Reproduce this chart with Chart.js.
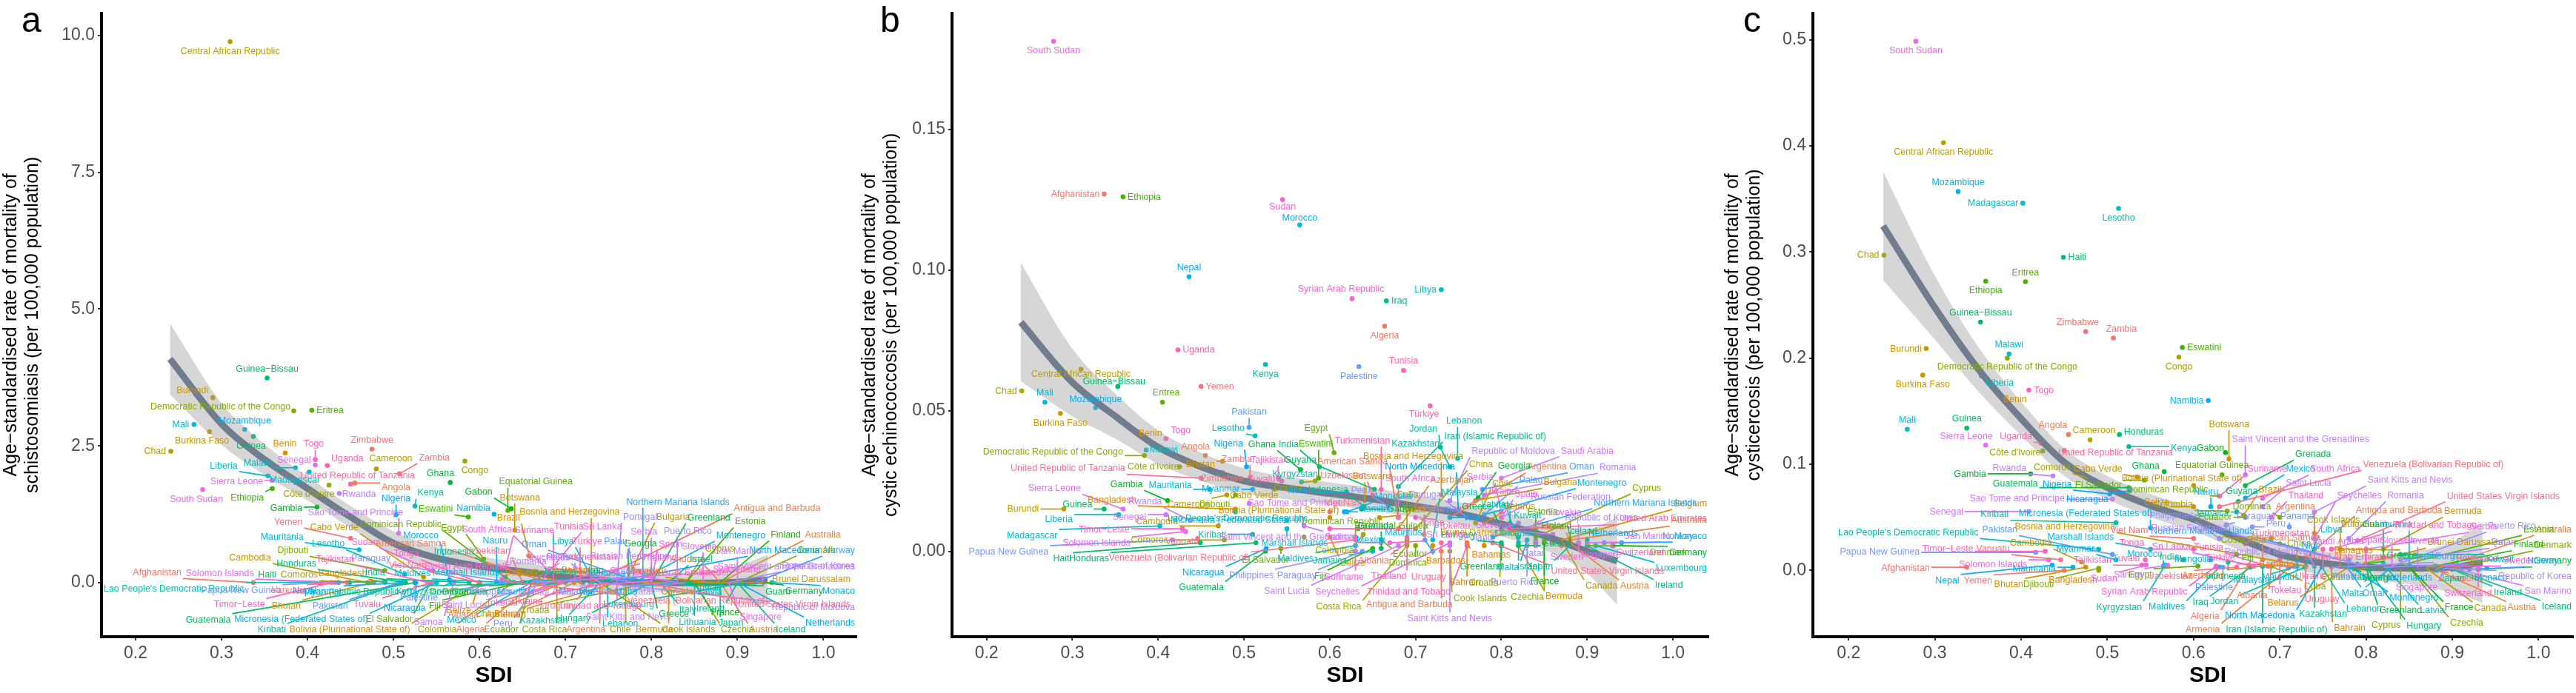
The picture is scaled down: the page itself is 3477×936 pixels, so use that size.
<!DOCTYPE html>
<html>
<head>
<meta charset="utf-8">
<script src="https://cdn.jsdelivr.net/npm/chart.js@4.4.1/dist/chart.umd.min.js"></script>
<style>
  html, body { margin: 0; padding: 0; background: #fff; width: 3477px; height: 936px; overflow: hidden; }
  canvas { position: absolute; top: 0; }
</style>
</head>
<body>
<canvas id="panelA" width="1160" height="936" style="left:0px;width:1160px;height:936px"></canvas>
<canvas id="panelB" width="1160" height="936" style="left:1150px;width:1160px;height:936px"></canvas>
<canvas id="panelC" width="1177" height="936" style="left:2300px;width:1177px;height:936px"></canvas>
<script>
// countries in factor (alphabetical) order; colour = ggplot hue palette by this order
const countries = [
  "Afghanistan","Albania","Algeria","American Samoa","Andorra","Angola","Antigua and Barbuda","Argentina","Armenia","Australia",
  "Austria","Azerbaijan","Bahamas","Bahrain","Bangladesh","Barbados","Belarus","Belgium","Belize","Benin",
  "Bermuda","Bhutan","Bolivia (Plurinational State of)","Bosnia and Herzegovina","Botswana","Brazil","Brunei Darussalam","Bulgaria","Burkina Faso","Burundi",
  "Cabo Verde","Cambodia","Cameroon","Canada","Central African Republic","Chad","Chile","China","Colombia","Comoros",
  "Congo","Cook Islands","Costa Rica","Côte d'Ivoire","Croatia","Cuba","Cyprus","Czechia","Democratic People's Republic of Korea","Democratic Republic of the Congo",
  "Denmark","Djibouti","Dominica","Dominican Republic","Ecuador","Egypt","El Salvador","Equatorial Guinea","Eritrea","Estonia",
  "Eswatini","Ethiopia","Fiji","Finland","France","Gabon","Gambia","Georgia","Germany","Ghana",
  "Greece","Greenland","Grenada","Guam","Guatemala","Guinea","Guinea−Bissau","Guyana","Haiti","Honduras",
  "Hungary","Iceland","India","Indonesia","Iran (Islamic Republic of)","Iraq","Ireland","Israel","Italy","Jamaica",
  "Japan","Jordan","Kazakhstan","Kenya","Kiribati","Kuwait","Kyrgyzstan","Lao People's Democratic Republic","Latvia","Lebanon",
  "Lesotho","Liberia","Libya","Lithuania","Luxembourg","Madagascar","Malawi","Malaysia","Maldives","Mali",
  "Malta","Marshall Islands","Mauritania","Mauritius","Mexico","Micronesia (Federated States of)","Monaco","Mongolia","Montenegro","Morocco",
  "Mozambique","Myanmar","Namibia","Nauru","Nepal","Netherlands","New Zealand","Nicaragua","Niger","Nigeria",
  "Niue","North Macedonia","Northern Mariana Islands","Norway","Oman","Pakistan","Palau","Palestine","Panama","Papua New Guinea",
  "Paraguay","Peru","Philippines","Poland","Portugal","Puerto Rico","Qatar","Republic of Korea","Republic of Moldova","Romania",
  "Russian Federation","Rwanda","Saint Kitts and Nevis","Saint Lucia","Saint Vincent and the Grenadines","Samoa","San Marino","Sao Tome and Principe","Saudi Arabia","Senegal",
  "Serbia","Seychelles","Sierra Leone","Singapore","Slovakia","Slovenia","Solomon Islands","Somalia","South Africa","South Sudan",
  "Spain","Sri Lanka","Sudan","Suriname","Sweden","Switzerland","Syrian Arab Republic","Taiwan (Province of China)","Tajikistan","Thailand",
  "Timor−Leste","Togo","Tokelau","Tonga","Trinidad and Tobago","Tunisia","Türkiye","Turkmenistan","Tuvalu","Uganda",
  "Ukraine","United Arab Emirates","United Kingdom","United Republic of Tanzania","United States of America","United States Virgin Islands","Uruguay","Uzbekistan","Vanuatu","Venezuela (Bolivarian Republic of)",
  "Viet Nam","Yemen","Zambia","Zimbabwe"
];

// labels that ggrepel dropped (too many overlaps) in the figure
const unlabelled = ["Democratic People's Republic of Korea","New Zealand","Taiwan (Province of China)",
  "United Kingdom","United States of America"];

const sdi = [
  0.337,0.69,0.664,0.68,0.88,0.455,0.73,0.74,0.71,0.88,
  0.88,0.68,0.76,0.76,0.49,0.72,0.78,0.87,0.60,0.374,
  0.82,0.475,0.60,0.73,0.641,0.658,0.78,0.77,0.286,0.29,
  0.535,0.47,0.48,0.87,0.31,0.241,0.77,0.70,0.639,0.477,
  0.583,0.74,0.69,0.425,0.80,0.69,0.84,0.85,0.57,0.384,
  0.90,0.49,0.70,0.63,0.66,0.605,0.543,0.633,0.405,0.84,
  0.587,0.359,0.65,0.88,0.85,0.637,0.411,0.773,0.93,0.566,
  0.80,0.80,0.66,0.82,0.525,0.337,0.353,0.652,0.449,0.514,
  0.80,0.90,0.588,0.64,0.68,0.666,0.90,0.82,0.81,0.65,
  0.88,0.729,0.74,0.525,0.51,0.84,0.567,0.49,0.82,0.749,
  0.513,0.354,0.73,0.85,0.91,0.402,0.386,0.72,0.63,0.268,
  0.83,0.55,0.46,0.72,0.66,0.55,0.94,0.62,0.78,0.565,
  0.327,0.51,0.617,0.62,0.436,0.90,0.86,0.526,null,0.503,
  0.74,0.75,0.79,0.92,0.778,0.506,0.78,0.634,0.711,0.417,
  0.638,0.668,0.63,0.82,0.76,0.83,0.84,0.89,0.74,0.78,
  0.80,0.437,0.74,0.68,0.66,0.57,0.90,0.506,0.80,0.409,
  0.80,0.74,0.359,0.89,0.83,0.86,0.432,null,0.68,0.278,
  0.80,0.67,0.545,0.63,0.89,0.93,0.626,0.84,0.54,0.69,
  0.428,0.409,0.70,0.60,0.76,0.686,0.717,0.66,0.544,0.423,
  0.75,0.81,0.86,0.45,0.87,0.79,0.73,0.65,0.446,0.63,
  0.60,0.45,0.507,0.475
];

// age-standardised mortality, per 100,000
const rateSchisto = [
  0,0,0,0,0,1.82,0,0,0,0,
  0,0,0,0,0,0,0,0,0,2.37,
  0,0,0,0,0.96,0.48,0,0,2.76,3.38,
  0.10,0,2.08,0,9.89,2.40,0,0.01,0,0,
  2.22,0,0,1.78,0,0,0,0,0,3.14,
  0,0.22,0,0.10,0,0.43,0,1.32,3.15,0,
  1.20,1.72,0,0,0,1.35,1.38,0,0,1.83,
  0,0,0,0,0,2.67,3.74,0,0,0,
  0,0,0,0,0,0.20,0,0,0,0,
  0,0,0,1.40,0,0,0,0.02,0,0,
  0.15,1.95,0.10,0,0,2.02,2.10,0,0,2.89,
  0,0,0.60,0.05,0,0,0,0,0,0.05,
  2.80,0,1.25,0.02,0,0,0,0,null,1.24,
  0,0,0,0,0.05,0,0.05,0,0.05,0,
  0,0,0.02,0,0,0,0,0,0,0,
  0,1.63,0,0,0,0,0,0.90,0.03,2.15,
  0,0,1.87,0,0,0,0,null,0.22,1.70,
  0,0,0.22,0.25,0,0,0.05,0,0,0,
  0,2.25,0.02,0,0,0.05,0.02,0,0,2.14,
  0,0,0,1.80,0,0,0,0,0,0.02,
  0,0.81,1.99,2.44
];

const rateEchino = [
  0.127,0.003,0.080,0.012,0.004,0.034,0.000,0.012,0.006,0.004,
  0.003,0.008,0.003,0.002,0.015,0.002,0.010,0.004,0.005,0.042,
  0.002,0.032,0.012,0.020,0.018,0.012,0.002,0.018,0.049,0.015,
  0.022,0.009,0.020,0.004,0.0647,0.057,0.010,0.008,0.006,0.004,
  0.025,0.000,0.002,0.030,0.002,0.004,0.005,0.004,0.005,0.034,
  0.002,0.020,0.002,0.005,0.004,0.035,0.001,0.008,0.053,0.003,
  0.026,0.126,0.001,0.002,0.003,0.015,0.018,0.019,0.002,0.029,
  0.008,0.002,0.001,0.002,0.000,0.015,0.0586,0.022,0.003,0.003,
  0.003,0.003,0.030,0.016,0.023,0.089,0.002,0.005,0.010,0.000,
  0.002,0.037,0.030,0.0664,0.006,0.008,0.0246,0.014,0.003,0.033,
  0.041,0.013,0.093,0.006,0.002,0.009,0.036,0.004,0.002,0.053,
  0.004,0.008,0.022,0.000,0.004,0.011,0.003,0.014,0.013,0.116,
  0.051,0.022,0.014,0.021,0.0976,0.004,0.003,0.001,null,0.030,
  0.012,0.014,0.005,0.003,0.022,0.044,0.013,0.0656,0.004,0.004,
  0.000,0.016,0.000,0.010,0.012,0.002,0.004,0.003,0.018,0.020,
  0.012,0.011,0.002,0.002,0.003,0.009,0.003,0.017,0.026,0.013,
  0.014,0.003,0.015,0.001,0.008,0.006,0.007,null,0.012,0.1813,
  0.012,0.003,0.125,0.005,0.003,0.002,0.0898,0.002,0.026,0.005,
  0.008,0.040,0.012,0.008,0.002,0.0643,0.0517,0.022,0.025,0.0716,
  0.015,0.008,0.003,0.026,0.002,0.003,0.003,0.020,0.0045,0.004,
  0.014,0.0586,0.026,0.028
];

const rateCysti = [
  0.003,0.004,0.005,0.010,0.000,0.128,0.012,0.035,0.002,0.001,
  0.001,0.004,0.020,0.004,0.000,0.020,0.003,0.003,0.060,0.166,
  0.020,0.003,0.080,0.004,0.105,0.052,0.003,0.004,0.184,0.209,
  0.088,0.008,0.123,0.002,0.403,0.297,0.020,0.025,0.056,0.087,
  0.201,0.010,0.030,0.1125,0.002,0.004,0.001,0.003,0.004,0.200,
  0.002,0.002,0.050,0.070,0.050,0.004,0.085,0.090,0.272,0.005,
  0.210,0.2725,0.015,0.004,0.003,0.111,0.091,0.004,0.001,0.093,
  0.006,0.003,0.080,0.012,0.078,0.134,0.234,0.065,0.295,0.128,
  0.003,0.002,0.010,0.008,0.004,0.003,0.001,0.002,0.003,0.055,
  0.001,0.003,0.004,0.1166,0.045,0.015,0.005,0.020,0.006,0.003,
  0.341,0.183,0.004,0.005,0.001,0.346,0.204,0.004,0.003,0.133,
  0.003,0.020,0.003,0.010,0.068,0.040,0.002,0.010,0.004,0.004,
  0.357,0.010,0.160,0.060,0.005,0.005,0.002,0.075,null,0.072,
  0.020,0.005,0.006,0.001,0.003,0.015,0.010,0.003,0.041,0.017,
  0.043,0.041,0.030,0.003,0.003,0.004,0.010,0.002,0.005,0.030,
  0.004,0.089,0.055,0.060,0.090,0.005,0.002,0.067,0.004,0.0555,
  0.020,0.030,0.118,0.001,0.003,0.002,0.010,null,0.068,0.4986,
  0.003,0.004,0.005,0.070,0.004,0.003,0.004,0.002,0.005,0.050,
  0.018,0.170,0.010,0.020,0.020,0.004,0.004,0.025,0.010,0.120,
  0.020,0.003,0.002,0.113,0.002,0.028,0.004,0.003,0.010,0.060,
  0.030,0.000,0.219,0.225
];

// loess fit
const smoothX = [0.24,0.30,0.35,0.40,0.45,0.50,0.55,0.60,0.65,0.70,0.75,0.80,0.85,0.90,0.935];
const fitA = [4.09,2.90,2.25,1.72,1.20,0.72,0.45,0.30,0.20,0.10,0.03,0.00,-0.01,0.01,0.05];
const loA  = [3.44,2.52,1.97,1.50,1.00,0.50,0.25,0.12,0.03,-0.06,-0.13,-0.17,-0.21,-0.29,-0.41];
const hiA  = [4.74,3.28,2.53,1.94,1.40,0.94,0.65,0.48,0.37,0.26,0.19,0.17,0.19,0.31,0.51];
const fitB = [0.0814,0.060,0.048,0.037,0.030,0.025,0.0225,0.0205,0.0185,0.016,0.0135,0.0097,0.0055,0.0,-0.0035];
const loB  = [0.0604,0.048,0.040,0.031,0.025,0.0205,0.0185,0.0165,0.0145,0.012,0.0095,0.0052,0.0005,-0.008,-0.019];
const hiB  = [0.1024,0.072,0.056,0.043,0.035,0.0295,0.0265,0.0245,0.0225,0.020,0.0175,0.0142,0.0105,0.008,0.012];
const fitC = [0.3246,0.2475,0.190,0.143,0.102,0.078,0.061,0.048,0.031,0.015,0.007,0.003,0.002,0.003,0.0075];
const loC  = [0.2736,0.2175,0.169,0.127,0.089,0.067,0.050,0.037,0.020,0.004,-0.004,-0.009,-0.013,-0.021,-0.0305];
const hiC  = [0.3756,0.2775,0.211,0.159,0.115,0.089,0.072,0.059,0.042,0.026,0.018,0.015,0.017,0.027,0.0455];

const xTicks = [0.2,0.3,0.4,0.5,0.6,0.7,0.8,0.9,1.0];
const yTicksA = [0,2.5,5,7.5,10];
const yTicksB = [0,0.05,0.10,0.15];
const yTicksC = [0,0.1,0.2,0.3,0.4,0.5];

const FONT = "'Liberation Sans', Arial, sans-serif";
const LABEL_FONT = "13.5px " + FONT;
const SQUEEZE = 0.92;
const LABEL_H = 14;
const BOX_PAD_X = 5;
const BOX_PAD_Y = 4;

Chart.defaults.font.family = FONT;

// ggplot2 hue_pal(): hcl(h, c = 100, l = 65)
function hcl(h, c, l) {
  const rad = h * Math.PI / 180;
  const U = c * Math.cos(rad), V = c * Math.sin(rad);
  const Xn = 95.047, Yn = 100, Zn = 108.883;
  const den = Xn + 15 * Yn + 3 * Zn;
  const un = 4 * Xn / den, vn = 9 * Yn / den;
  const Y = l > 8 ? Yn * Math.pow((l + 16) / 116, 3) : Yn * l / 903.3;
  const u = U / (13 * l) + un, v = V / (13 * l) + vn;
  const X = 9 * Y * u / (4 * v);
  const Z = -X / 3 - 5 * Y + 3 * Y / v;
  const g = t => {
    t = t > 0.0031308 ? 1.055 * Math.pow(t, 1 / 2.4) - 0.055 : 12.92 * t;
    return Math.round(255 * Math.min(1, Math.max(0, t)));
  };
  const r = g((3.240479 * X - 1.53715 * Y - 0.498535 * Z) / 100);
  const gr = g((-0.969256 * X + 1.875992 * Y + 0.041556 * Z) / 100);
  const b = g((0.055648 * X - 0.204043 * Y + 1.057311 * Z) / 100);
  return 'rgb(' + r + ',' + gr + ',' + b + ')';
}
const palette = countries.map((c, i) => hcl(15 + 360 * i / countries.length, 100, 65));

// deterministic jitter so labels don't start stacked on the same spot
function jitter(i) {
  const s = Math.sin(i * 12.9898 + 78.233) * 43758.5453;
  return s - Math.floor(s);
}

// crude ggrepel: push padded label boxes off each other and off the points
function layoutLabels(pts, names, ctx, area) {
  const n = pts.length;
  const L = [];
  for (let i = 0; i < n; i++) {
    const tw = ctx.measureText(names[i]).width * SQUEEZE;
    L.push({ px: pts[i].x, py: pts[i].y, tw: tw, w: tw + 2 * BOX_PAD_X, h: LABEL_H + 2 * BOX_PAD_Y,
             x: pts[i].x + (jitter(i) - 0.5) * 10,
             y: pts[i].y + (jitter(i + 333) - 0.5) * 10 });
  }
  for (let it = 0; it < 600; it++) {
    for (let i = 0; i < n; i++) {
      const a = L[i];
      for (let j = i + 1; j < n; j++) {
        const b = L[j];
        const sx = (a.w + b.w) / 2, sy = (a.h + b.h) / 2;
        const dx = b.x - a.x, dy = b.y - a.y;
        const ox = sx - Math.abs(dx); if (ox <= 0) continue;
        const oy = sy - Math.abs(dy); if (oy <= 0) continue;
        if (ox / sx < oy / sy) {
          const m = ox * 0.25 * (dx >= 0 ? 1 : -1);
          a.x -= m; b.x += m;
        } else {
          const m = oy * 0.25 * (dy >= 0 ? 1 : -1);
          a.y -= m; b.y += m;
        }
      }
    }
    for (let i = 0; i < n; i++) {
      const a = L[i];
      for (let k = 0; k < pts.length; k++) {
        const p = pts[k];
        const dx = a.x - p.x, dy = a.y - p.y;
        const sx = a.w / 2 + 2, sy = a.h / 2 + 2;
        const ox = sx - Math.abs(dx); if (ox <= 0) continue;
        const oy = sy - Math.abs(dy); if (oy <= 0) continue;
        if (ox / sx < oy / sy) a.x += ox * 0.3 * (dx >= 0 ? 1 : -1);
        else a.y += oy * 0.3 * (dy >= 0 ? 1 : -1);
      }
      a.x += (a.px - a.x) * 0.008;
      a.y += (a.py - a.y) * 0.008;
      a.x = Math.min(Math.max(a.x, area.left + a.tw / 2 + 3), area.right - a.tw / 2 - 2);
      a.y = Math.min(Math.max(a.y, area.top + LABEL_H / 2 + 2), area.bottom - LABEL_H / 2 - 3);
    }
  }
  return L;
}

const repelPlugin = {
  id: 'repel',
  afterDatasetsDraw(chart, args, opts) {
    const ctx = chart.ctx;
    const meta = chart.getDatasetMeta(0);
    ctx.save();
    ctx.font = LABEL_FONT;
    if (!chart.$labels) {
      const pts = meta.data.map(el => ({ x: el.x, y: el.y }));
      const keep = opts.names.map((nm, i) => unlabelled.indexOf(nm) < 0 ? i : -1).filter(i => i >= 0);
      const labs = layoutLabels(keep.map(i => pts[i]), keep.map(i => opts.names[i]), ctx, chart.chartArea);
      labs.forEach((l, k) => { l.idx = keep[k]; });
      chart.$labels = labs;
    }
    const labs = chart.$labels;
    ctx.lineWidth = 1.7;
    labs.forEach(l => {
      const hw = l.tw / 2 + 2, hh = LABEL_H / 2 + 1;
      const cx = Math.min(Math.max(l.px, l.x - hw), l.x + hw);
      const cy = Math.min(Math.max(l.py, l.y - hh), l.y + hh);
      if (Math.hypot(cx - l.px, cy - l.py) > 6) {
        ctx.strokeStyle = opts.colors[l.idx];
        ctx.beginPath();
        ctx.moveTo(l.px, l.py);
        ctx.lineTo(cx, cy);
        ctx.stroke();
      }
    });
    ctx.textAlign = 'center';
    ctx.textBaseline = 'middle';
    labs.forEach(l => {
      ctx.fillStyle = opts.colors[l.idx];
      ctx.save();
      ctx.translate(l.x, l.y);
      ctx.scale(SQUEEZE, 1);
      ctx.fillText(opts.names[l.idx], 0, 0);
      ctx.restore();
    });
    ctx.restore();
  }
};

const decorPlugin = {
  id: 'decor',
  afterDraw(chart, args, opts) {
    const ctx = chart.ctx, a = chart.chartArea;
    ctx.save();
    ctx.fillStyle = '#000';
    ctx.textBaseline = 'alphabetic';
    ctx.textAlign = 'left';
    ctx.font = '48px ' + FONT;
    ctx.fillText(opts.tag, opts.tagX, 43);
    ctx.textAlign = 'center';
    ctx.font = 'bold 30px ' + FONT;
    ctx.fillText('SDI', (a.left + a.right) / 2 + 20, 921);
    ctx.restore();
  }
};

function drawPanel(id, p) {
  const pts = [], cols = [], names = [];
  countries.forEach((c, i) => {
    if (sdi[i] == null || p.rates[i] == null) return;
    pts.push({ x: sdi[i], y: p.rates[i] });
    cols.push(palette[i]);
    names.push(c);
  });
  const toXY = arr => smoothX.map((x, k) => ({ x: x, y: arr[k] }));
  new Chart(document.getElementById(id), {
    type: 'scatter',
    data: {
      datasets: [
        { type: 'scatter', data: pts, pointBackgroundColor: cols, pointBorderWidth: 0,
          pointRadius: 3.3, order: 3 },
        { type: 'line', data: toXY(p.hi), borderWidth: 0, pointRadius: 0, fill: false,
          cubicInterpolationMode: 'monotone', order: 2 },
        { type: 'line', data: toXY(p.lo), borderWidth: 0, pointRadius: 0, fill: '-1',
          backgroundColor: 'rgba(153,153,153,0.4)', cubicInterpolationMode: 'monotone', order: 2 },
        { type: 'line', data: toXY(p.fit), borderColor: '#6f7d8f', borderWidth: 9, pointRadius: 0,
          fill: false, cubicInterpolationMode: 'monotone', borderCapStyle: 'butt', order: 1 }
      ]
    },
    options: {
      responsive: false,
      animation: false,
      devicePixelRatio: 1,
      events: [],
      layout: { padding: { top: 7, right: p.padRight, left: 0, bottom: 0 } },
      plugins: {
        legend: { display: false },
        tooltip: { enabled: false },
        repel: { names: names, colors: cols },
        decor: { tag: p.tag, tagX: p.tagX }
      },
      scales: {
        x: {
          type: 'linear', min: p.xMin, max: p.xMax,
          afterBuildTicks: s => { s.ticks = xTicks.map(v => ({ value: v })); },
          afterFit: s => { s.height = 76; },
          ticks: { autoSkip: false, maxRotation: 0, padding: 4, color: '#4d4d4d',
                   font: { size: 23 }, callback: v => v.toFixed(1) },
          grid: { drawOnChartArea: false, drawTicks: true, tickLength: 5, color: '#333', lineWidth: 2 },
          border: { display: true, color: '#000', width: 4 },
          title: { display: false }
        },
        y: {
          type: 'linear', min: p.yMin, max: p.yMax,
          afterBuildTicks: s => { s.ticks = p.yTicks.map(v => ({ value: v })); },
          afterFit: s => { s.width = p.yWidth; },
          ticks: { autoSkip: false, padding: 4, color: '#4d4d4d', font: { size: 23 },
                   callback: v => v.toFixed(p.dec) },
          grid: { drawOnChartArea: false, drawTicks: true, tickLength: 5, color: '#333', lineWidth: 2 },
          border: { display: true, color: '#000', width: 4 },
          title: { display: true, text: ['Age−standardised rate of mortality of', p.disease],
                   color: '#000', font: { size: 25, lineHeight: 1.16 },
                   padding: { top: p.titlePad, bottom: 0 } }
        }
      }
    },
    plugins: [repelPlugin, decorPlugin]
  });
}

drawPanel('panelA', {
  rates: rateSchisto, fit: fitA, lo: loA, hi: hiA, yTicks: yTicksA, dec: 1,
  xMin: 0.1604, xMax: 1.0384, yMin: -0.99, yMax: 10.41,
  yWidth: 137, padRight: 2, titlePad: 1, tag: 'a', tagX: 29,
  disease: 'schistosomiasis (per 100,000 population)'
});
drawPanel('panelB', {
  rates: rateEchino, fit: fitB, lo: loB, hi: hiB, yTicks: yTicksB, dec: 2,
  xMin: 0.1597, xMax: 1.0414, yMin: -0.0304, yMax: 0.1913,
  yWidth: 135, padRight: 4, titlePad: 10, tag: 'b', tagX: 38,
  disease: 'cystic echinococcosis (per 100,000 population)'
});
drawPanel('panelC', {
  rates: rateCysti, fit: fitC, lo: loC, hi: hiC, yTicks: yTicksC, dec: 1,
  xMin: 0.1586, xMax: 1.040, yMin: -0.0625, yMax: 0.525,
  yWidth: 147, padRight: 1, titlePad: 25, tag: 'c', tagX: 53,
  disease: 'cysticercosis (per 100,000 population)'
});
</script>
</body>
</html>
